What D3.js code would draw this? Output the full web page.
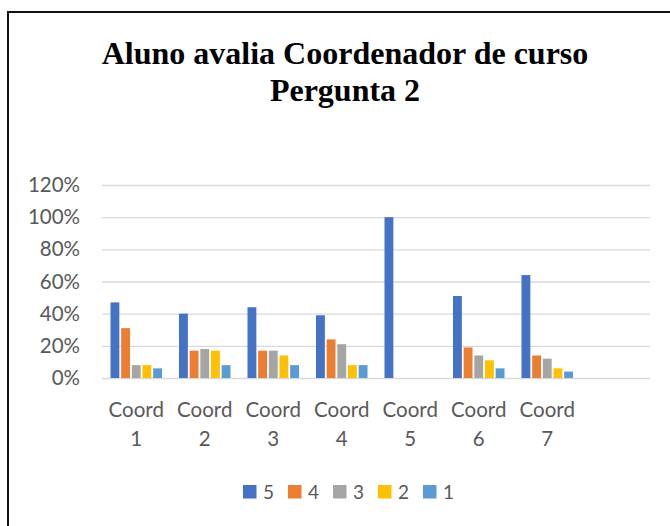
<!DOCTYPE html>
<html>
<head>
<meta charset="utf-8">
<script src="https://cdn.jsdelivr.net/npm/d3@7"></script>
<style>
  html, body { margin: 0; padding: 0; background: #fff; }
  svg { display: block; }
</style>
</head>
<body>
<svg id="chart" width="670" height="526"></svg>
<script>
// Coordinators (the trailing blank slot keeps the empty space Excel leaves on the right)
const categories = ["Coord 1", "Coord 2", "Coord 3", "Coord 4", "Coord 5", "Coord 6", "Coord 7", ""];
// Answer scale, 5 = best
const seriesNames = ["5", "4", "3", "2", "1"];
const seriesColors = ["#4472C4", "#ED7D31", "#A5A5A5", "#FFC000", "#5B9BD5"];
// Share of answers per coordinator
const values5 = [0.47, 0.40, 0.44, 0.39, 1.00, 0.51, 0.64];
const values4 = [0.31, 0.17, 0.17, 0.24, 0.00, 0.19, 0.14];
const values3 = [0.08, 0.18, 0.17, 0.21, 0.00, 0.14, 0.12];
const values2 = [0.08, 0.17, 0.14, 0.08, 0.00, 0.11, 0.06];
const values1 = [0.06, 0.08, 0.08, 0.08, 0.00, 0.06, 0.04];
const yTicks = [0, 0.2, 0.4, 0.6, 0.8, 1.0, 1.2];
const titleLines = ["Aluno avalia Coordenador de curso", "Pergunta 2"];

const seriesValues = [values5, values4, values3, values2, values1];

const svg = d3.select("#chart");
const labelFont = "Lato, 'Open Sans', sans-serif";
const textGray = "#595959";

// Chart frame
svg.append("rect")
  .attr("x", 8).attr("y", 12)
  .attr("width", 700).attr("height", 560)
  .attr("fill", "none")
  .attr("stroke", "#111")
  .attr("stroke-width", 2);

// Title
const title = svg.append("text")
  .attr("text-anchor", "middle")
  .attr("font-family", "'Liberation Serif', 'Times New Roman', serif")
  .attr("font-weight", "bold")
  .attr("font-size", 32)
  .attr("fill", "#000");
titleLines.forEach((line, i) => {
  title.append("tspan").attr("x", 345).attr("y", 64 + i * 36.5).text(line);
});

// Scales
const plot = { left: 102, right: 650, top: 185, bottom: 378 };
const x0 = d3.scaleBand().domain(d3.range(categories.length))
  .range([plot.left, plot.right]).paddingInner(0).paddingOuter(0);
const groupWidth = 51.5;
const x1 = d3.scaleBand().domain(seriesNames)
  .range([0, groupWidth]).paddingInner(0.17).paddingOuter(0);
const y = d3.scaleLinear().domain([0, 1.2]).range([plot.bottom, plot.top]);

// Gridlines and percentage labels
const yAxis = d3.axisLeft(y).tickValues(yTicks)
  .tickSize(-(plot.right - plot.left))
  .tickFormat(d3.format(".0%"))
  .tickPadding(22);
const gy = svg.append("g")
  .attr("transform", `translate(${plot.left},0)`)
  .call(yAxis);
gy.select(".domain").remove();
gy.selectAll(".tick line")
  .attr("stroke", "#d9d9d9")
  .attr("stroke-width", 1.4);
gy.selectAll(".tick text")
  .attr("font-family", labelFont)
  .attr("font-size", 20.5)
  .attr("fill", textGray)
  .attr("x", -22);

// Bars
const groups = svg.append("g").selectAll("g")
  .data(d3.range(values5.length))
  .join("g")
  .attr("transform", i => `translate(${x0(i) + (x0.bandwidth() - groupWidth) / 2},0)`);

groups.selectAll("rect")
  .data(i => seriesNames.map((s, k) => ({ s, k, v: seriesValues[k][i] })))
  .join("rect")
  .attr("x", d => x1(d.s))
  .attr("width", x1.bandwidth())
  .attr("y", d => y(d.v))
  .attr("height", d => y(0) - y(d.v))
  .attr("fill", d => seriesColors[d.k]);

// Category labels, wrapped on two lines
const catG = svg.append("g")
  .attr("font-family", labelFont)
  .attr("font-size", 20.5)
  .attr("fill", textGray)
  .attr("text-anchor", "middle");
categories.forEach((c, i) => {
  if (!c) return;
  const cx = x0(i) + x0.bandwidth() / 2;
  const t = catG.append("text");
  c.split(" ").forEach((w, j) => {
    t.append("tspan").attr("x", cx).attr("y", 417 + j * 29).text(w);
  });
});

// Legend
const legend = svg.append("g")
  .attr("font-family", labelFont)
  .attr("font-size", 19)
  .attr("fill", textGray);
seriesNames.forEach((s, k) => {
  const lx = 243 + k * 45;
  legend.append("rect")
    .attr("x", lx).attr("y", 485)
    .attr("width", 13.5).attr("height", 13.5)
    .attr("fill", seriesColors[k]);
  legend.append("text")
    .attr("x", lx + 20).attr("y", 499)
    .text(s);
});
</script>
</body>
</html>
